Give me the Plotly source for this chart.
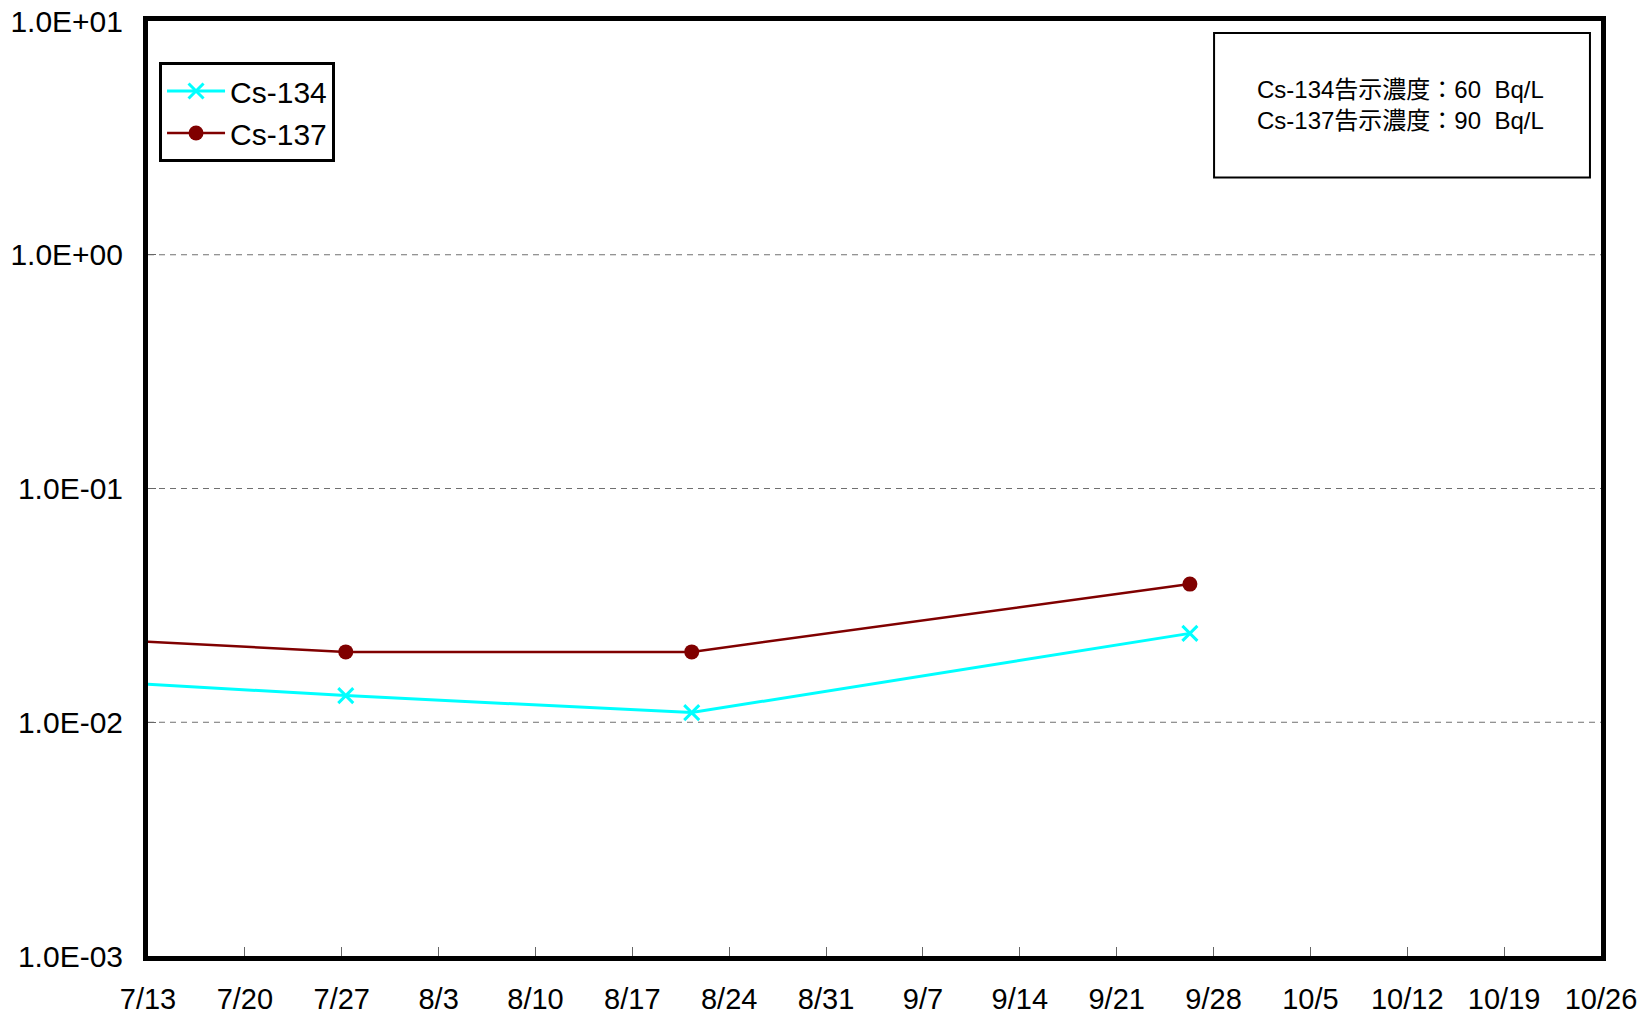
import plotly.graph_objects as go

# ---- data ----
dates = ["2012-06-23 07:00", "2012-07-27 07:00", "2012-08-21 07:00", "2012-09-26 07:00"]
cs134 = [0.017, 0.0130, 0.0110, 0.0240]
cs137 = [0.0254, 0.0200, 0.0200, 0.0390]

x_tick_vals = ["2012-07-13", "2012-07-20", "2012-07-27", "2012-08-03", "2012-08-10",
               "2012-08-17", "2012-08-24", "2012-08-31", "2012-09-07", "2012-09-14",
               "2012-09-21", "2012-09-28", "2012-10-05", "2012-10-12", "2012-10-19",
               "2012-10-26"]
x_tick_text = ["7/13", "7/20", "7/27", "8/3", "8/10", "8/17", "8/24", "8/31", "9/7",
               "9/14", "9/21", "9/28", "10/5", "10/12", "10/19", "10/26"]
y_tick_vals = [1e-3, 1e-2, 1e-1, 1e0, 1e1]
y_tick_text = ["1.0E-03", "1.0E-02", "1.0E-01", "1.0E+00", "1.0E+01"]
note_lines = ["Cs-134告示濃度：60  Bq/L", "Cs-137告示濃度：90  Bq/L"]

FONT = "Liberation Sans, Arial, Noto Sans CJK JP, sans-serif"

fig = go.Figure()
fig.add_trace(go.Scatter(
    x=dates, y=cs134, name="Cs-134", mode="lines+markers",
    line=dict(color="#00FFFF", width=3),
    marker=dict(symbol="x-thin-open", size=15, color="#00FFFF",
                line=dict(color="#00FFFF", width=3)),
))
fig.add_trace(go.Scatter(
    x=dates, y=cs137, name="Cs-137", mode="lines+markers",
    line=dict(color="#800000", width=2.5),
    marker=dict(symbol="circle", size=15, color="#800000"),
))

# grid lines (dashed) at inner decades
for v in y_tick_vals[1:-1]:
    fig.add_shape(type="line", xref="paper", x0=0, x1=1, yref="y", y0=v, y1=v,
                  line=dict(color="#707070", width=1, dash="6px,5px"), layer="below")

# plot area (page px): left 148, right 1601, top 21, bottom 956
fig.add_annotation(
    xref="paper", yref="paper", x=0.8620, y=0.9101, xanchor="center", yanchor="middle",
    text="<br>".join(note_lines), showarrow=False, align="left",
    font=dict(family=FONT, size=24, color="black"),
)
fig.add_shape(type="rect", xref="paper", yref="paper",
              x0=0.7337, x1=0.9924, y0=0.8326, y1=0.9872,
              line=dict(color="black", width=2), fillcolor="rgba(0,0,0,0)")

fig.update_xaxes(
    type="date", range=["2012-07-13", "2012-10-26"],
    tickvals=x_tick_vals, ticktext=x_tick_text,
    ticks="inside", ticklen=9, tickwidth=1, tickcolor="#666666",
    showline=True, linewidth=5, linecolor="black", mirror=True,
    showgrid=False, zeroline=False, automargin=False,
    ticklabeloverflow="allow",
    tickfont=dict(family=FONT, size=29, color="black"),
    ticklabelstandoff=13,
)
fig.update_yaxes(
    type="log", range=[-3, 1],
    tickvals=y_tick_vals, ticktext=y_tick_text,
    ticks="inside", ticklen=8, tickwidth=1, tickcolor="#666666",
    showline=True, linewidth=5, linecolor="black", mirror=True,
    showgrid=False, zeroline=False, automargin=False,
    ticklabeloverflow="allow",
    tickfont=dict(family=FONT, size=30, color="black"),
    ticklabelstandoff=14,
)

fig.update_layout(
    width=1647, height=1020,
    margin=dict(l=148, r=46, t=21, b=64, autoexpand=False),
    paper_bgcolor="white", plot_bgcolor="white",
    showlegend=True,
    legend=dict(x=0.0076, y=0.9561, xanchor="left", yanchor="top",
                bgcolor="white", bordercolor="black", borderwidth=3,
                font=dict(family=FONT, size=30, color="black"),
                tracegroupgap=0, itemwidth=58),
)

fig.write_html("out.html", config={"displayModeBar": False},
               post_script="document.body.style.margin='0';document.body.style.padding='0';")
